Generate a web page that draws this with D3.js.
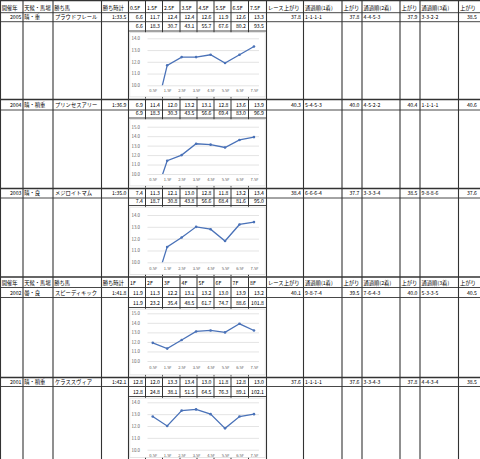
<!DOCTYPE html>
<html><head><meta charset="utf-8">
<script src="https://cdn.jsdelivr.net/npm/d3@7"></script>
<style>
body{margin:0;background:#fff}
svg{display:block}
text{font-family:"Noto Sans CJK JP","Noto Sans",sans-serif}
</style>
</head><body>
<svg id="c" width="480" height="459"></svg>
<script>
// ---------- data ----------
const years      = ["2005", "2004", "2003", "2002", "2001"];
const conditions = ["晴・重", "晴・稍重", "晴・良", "曇・良", "晴・稍重"];
const winners    = ["プラウドフレール", "プリンセスアリー", "メジロイトマム", "スピーディキック", "ケラススヴィア"];
const winTimes   = ["1:33.5", "1:36.9", "1:35.0", "1:41.8", "1:42.1"];
const headerLapLabels = [
  ["0.5F", "1.5F", "2.5F", "3.5F", "4.5F", "5.5F", "6.5F", "7.5F"],
  null, null,
  ["1F", "2F", "3F", "4F", "5F", "6F", "7F", "8F"],
  null
];
const laps = [
  [6.6, 11.7, 12.4, 12.4, 12.6, 11.9, 12.6, 13.3],
  [6.9, 11.4, 12.0, 13.2, 13.1, 12.8, 13.6, 13.9],
  [7.4, 11.3, 12.1, 13.0, 12.8, 11.8, 13.2, 13.4],
  [11.9, 11.3, 12.2, 13.1, 13.2, 13.0, 13.9, 13.2],
  [12.8, 12.0, 13.3, 13.4, 13.0, 11.8, 12.8, 13.0]
];
const cumulative = [
  [6.6, 18.3, 30.7, 43.1, 55.7, 67.6, 80.2, 93.5],
  [6.9, 18.3, 30.3, 43.5, 56.6, 69.4, 83.0, 96.9],
  [7.4, 18.7, 30.8, 43.8, 56.6, 68.4, 81.6, 95.0],
  [11.9, 23.2, 35.4, 48.5, 61.7, 74.7, 88.6, 101.8],
  [12.8, 24.8, 38.1, 51.5, 64.5, 76.3, 89.1, 102.1]
];
const raceLast3F = [37.8, 40.3, 38.4, 40.1, 37.6];
const pass1 = ["1-1-1-1", "5-4-5-3", "6-6-6-4", "9-8-7-4", "1-1-1-1"];
const last1 = [37.8, 40.0, 37.7, 39.5, 37.6];
const pass2 = ["4-4-5-3", "4-5-2-2", "3-3-3-4", "7-6-4-3", "3-3-4-3"];
const last2 = [37.9, 40.4, 38.5, 40.0, 37.8];
const pass3 = ["3-3-2-2", "1-1-1-1", "9-8-8-6", "5-3-3-5", "4-4-3-4"];
const last3 = [38.5, 40.6, 37.6, 40.5, 38.5];
const chartXLabels = ["0.5F", "1.5F", "2.5F", "3.5F", "4.5F", "5.5F", "6.5F", "7.5F"];
const yMaxes = [14, 15, 14, 15, 14];
const yMin = 10;
const leftHeaders  = ["開催年", "天候・馬場", "勝ち馬", "勝ち時計"];
const rightHeaders = ["レース上がり", "通過順(1着)", "上がり", "通過順(2着)", "上がり", "通過順(3着)", "上がり"];

// ---------- layout ----------
const W = 480, H = 459;
const colX = [0.5, 23, 53, 101.5, 128.5, 145.5, 162.5, 180, 197, 214, 231, 248.5, 266.5,
              303.5, 342, 362, 400, 420, 458.5, 480];
const sections = [
  {top: 0.5,  hdr: 12.7,  data: 21.7,  cum: 31,    bottom: 98.5, gTop: 38.3,  gBot: 85.3,  lblY: 92.5},
  {top: 99.5, hdr: null,  data: 110,   cum: 118,   bottom: 187.5, gTop: 126.7, gBot: 174,  lblY: 181.8},
  {top: 188.5,hdr: null,  data: 198,   cum: 205.5, bottom: 276,  gTop: 215,   gBot: 262.3, lblY: 270.8},
  {top: 277,  hdr: 287.5, data: 297.5, cum: 307.5, bottom: 376.5, gTop: 313.3, gBot: 361,  lblY: 369.3},
  {top: 377.5,hdr: null,  data: 386.5, cum: 396.5, bottom: 459,  gTop: 402.3, gBot: 449.7, lblY: 457.3}
];
const LINE = "#333";
const svg = d3.select("#c");
svg.append("rect").attr("width", W).attr("height", H).attr("fill", "#fff");

const gLines = svg.append("g");
const gText = svg.append("g").attr("fill", "#000");

function txt(x, y, s, anchor, size) {
  gText.append("text").attr("x", x).attr("y", y).attr("text-anchor", anchor || "start")
    .attr("font-size", size || 5.2).text(s);
}
function hline(x1, x2, y, w) {
  gLines.append("line").attr("x1", x1).attr("x2", x2).attr("y1", y).attr("y2", y)
    .attr("stroke", LINE).attr("stroke-width", w || 0.9);
}
function vline(x, y1, y2, w) {
  gLines.append("line").attr("x1", x).attr("x2", x).attr("y1", y1).attr("y2", y2)
    .attr("stroke", LINE).attr("stroke-width", w || 1);
}

// main vertical lines (full height)
[0, 1, 2, 3, 4, 12, 13, 14, 15, 16, 17, 18].forEach(i => vline(colX[i], 0, H, 1.1));

sections.forEach((s, k) => {
  // section top
  hline(0, W, s.top, 1.4);
  // inner lap column lines
  for (let i = 5; i <= 11; i++) vline(colX[i], s.top, s.bottom, 1);
  if (s.hdr !== null) {
    hline(0, W, s.hdr, 0.9);
    const hy = s.hdr - 3;
    leftHeaders.forEach((h, i) => txt(colX[i] + 1.2, hy, h, "start", 5.3));
    headerLapLabels[k].forEach((h, i) => txt(colX[4 + i] + 1.5, hy, h, "start", 5.2));
    rightHeaders.forEach((h, i) => txt(colX[12 + i] + 1.5, hy, h, "start", 5.3));
  }
  hline(0, W, s.data, 0.9);
  hline(colX[4], colX[12], s.cum, 0.9);

  // data row
  const dy = s.data - 2.8;
  txt(colX[1] - 1.5, dy, years[k], "end");
  txt(colX[1] + 1.2, dy, conditions[k], "start", 5.3);
  txt(colX[2] + 2, dy, winners[k], "start", 5.3);
  txt(colX[4] - 2, dy, winTimes[k], "end");
  laps[k].forEach((v, i) => txt(colX[5 + i] - 2.5, dy, v.toFixed(1), "end"));
  txt(colX[13] - 2.5, dy, raceLast3F[k].toFixed(1), "end");
  txt(colX[13] + 1.5, dy, pass1[k], "start");
  txt(colX[15] - 2.5, dy, last1[k].toFixed(1), "end");
  txt(colX[15] + 1.5, dy, pass2[k], "start");
  txt(colX[17] - 2.5, dy, last2[k].toFixed(1), "end");
  txt(colX[17] + 1.5, dy, pass3[k], "start");
  txt(colX[19] - 3, dy, last3[k].toFixed(1), "end");
  // cumulative row
  const cy = s.cum - 2.6;
  cumulative[k].forEach((v, i) => txt(colX[5 + i] - 2.5, cy, v.toFixed(1), "end"));

  // ---------- chart ----------
  const g = svg.append("g");
  const boxTop = s.cum + 1.6, boxBot = s.bottom - 1.6;
  g.append("rect").attr("x", 129.8).attr("y", boxTop).attr("width", 135.4)
    .attr("height", boxBot - boxTop).attr("fill", "#fff").attr("stroke", "#d9d9d9").attr("stroke-width", 0.7);

  const x = d3.scalePoint().domain(chartXLabels).range([145.5, 261.2]).padding(0.5);
  const y = d3.scaleLinear().domain([yMin, yMaxes[k]]).range([s.gBot, s.gTop]);
  const ticks = d3.range(yMin, yMaxes[k] + 0.001, 1);

  const yAxis = d3.axisLeft(y).tickValues(ticks).tickFormat(d3.format(".1f"))
    .tickSize(-(259 - 147.5)).tickPadding(7.5);
  const ya = g.append("g").attr("transform", "translate(147.5,0)").call(yAxis);
  ya.select(".domain").remove();
  ya.selectAll(".tick line").attr("stroke", "#d9d9d9").attr("stroke-width", 0.7);
  ya.selectAll(".tick text").attr("fill", "#595959").attr("font-size", 4.4)
    .attr("font-family", "Liberation Sans, Arial, sans-serif");

  const xAxis = d3.axisBottom(x).tickSize(0).tickPadding(0);
  const xa = g.append("g").attr("transform", `translate(0,${s.lblY - 3.5})`).call(xAxis);
  xa.select(".domain").remove();
  xa.selectAll(".tick text").attr("fill", "#595959").attr("font-size", 4)
    .attr("font-family", "Liberation Sans, Arial, sans-serif");

  const clipId = "clip" + k;
  g.append("clipPath").attr("id", clipId).append("rect")
    .attr("x", 140).attr("y", boxTop).attr("width", 125).attr("height", s.gBot - boxTop);
  const pts = chartXLabels.map((c, i) => ({c, v: laps[k][i]}));
  const line = d3.line().x(d => x(d.c)).y(d => y(d.v));
  const pg = g.append("g").attr("clip-path", `url(#${clipId})`);
  pg.append("path").datum(pts).attr("d", line).attr("fill", "none")
    .attr("stroke", "#4a72b8").attr("stroke-width", 1.3);
  pg.selectAll("circle").data(pts).join("circle")
    .attr("cx", d => x(d.c)).attr("cy", d => y(d.v)).attr("r", 1.3).attr("fill", "#4a72b8");
});
</script>
</body></html>
